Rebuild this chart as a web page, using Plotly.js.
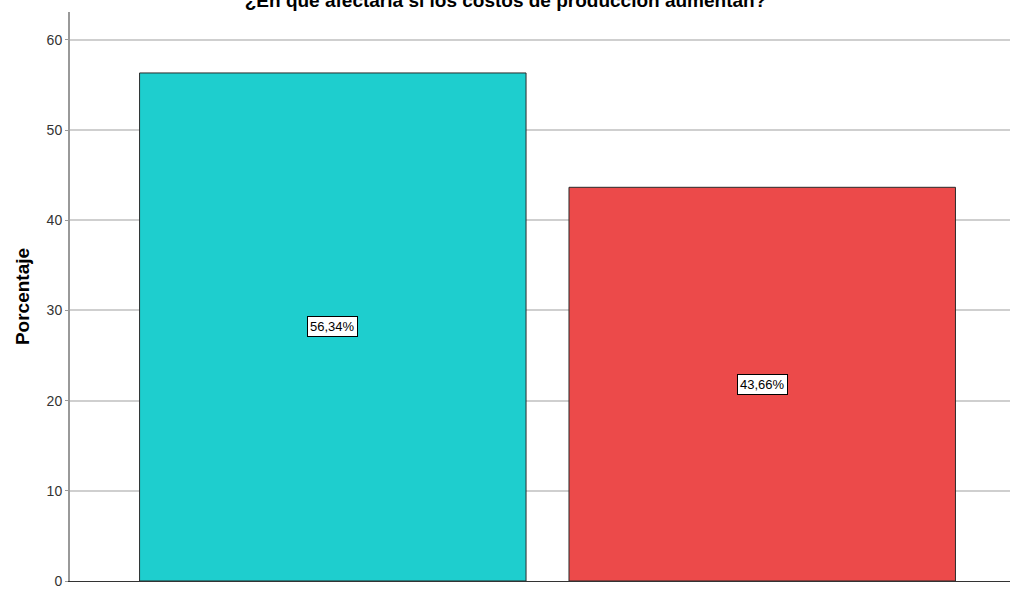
<!DOCTYPE html>
<html>
<head>
<meta charset="utf-8">
<script src="https://cdn.plot.ly/plotly-3.0.1.min.js"></script>
<style>html,body{margin:0;padding:0;background:#fff;}#chart{width:1011px;height:590px;}</style>
</head>
<body>
<div id="chart"></div>
<script>
var categories = ["Opción 1", "Opción 2"];
var values = [56.34, 43.66];
var labels = ["56,34%", "43,66%"];
var colors = ["#1ecece", "#ec4a4a"];
var titleText = "¿En qué afectaría si los costos de producción aumentan?";

var trace = {
  type: "bar",
  x: [0, 1],
  y: values,
  width: 0.9,
  marker: {color: colors, line: {color: "#2b2b2b", width: 1}},
  hoverinfo: "none"
};

var annotations = values.map(function(v, i){
  return {
    x: i, y: v / 2, xref: "x", yref: "y",
    text: labels[i], showarrow: false,
    font: {family: "Arial, Liberation Sans, sans-serif", size: 13, color: "#000"},
    bgcolor: "#fff", bordercolor: "#000", borderwidth: 1, borderpad: 2
  };
});

var layout = {
  width: 1011, height: 590,
  margin: {l: 70, r: 1, t: 12, b: 9},
  paper_bgcolor: "#fff", plot_bgcolor: "#fff",
  showlegend: false,
  title: {
    text: "<b>" + titleText + "</b>",
    font: {family: "Arial, Liberation Sans, sans-serif", size: 19, color: "#000"},
    x: 0.5, xref: "container", xanchor: "center", yref: "container", y: 1.0, yanchor: "middle"
  },
  xaxis: {
    range: [-0.612, 1.577],
    showticklabels: false, ticks: "", showgrid: false, zeroline: false,
    showline: true, linecolor: "#333", linewidth: 1,
    tickvals: [0, 1], ticktext: categories
  },
  yaxis: {
    range: [0, 63.1],
    tickvals: [0, 10, 20, 30, 40, 50, 60],
    ticks: "outside", ticklen: 3, tickcolor: "#999",
    tickfont: {family: "Arial, Liberation Sans, sans-serif", size: 14, color: "#333"},
    showgrid: true, gridcolor: "#cfcfcf", gridwidth: 2,
    zeroline: false, showline: true, linecolor: "#999", linewidth: 2,
    title: {text: "<b>Porcentaje</b>", font: {family: "Arial, Liberation Sans, sans-serif", size: 19, color: "#000"}, standoff: 12}
  },
  annotations: annotations
};

Plotly.newPlot("chart", [trace], layout, {displayModeBar: false, staticPlot: true});
</script>
</body>
</html>
